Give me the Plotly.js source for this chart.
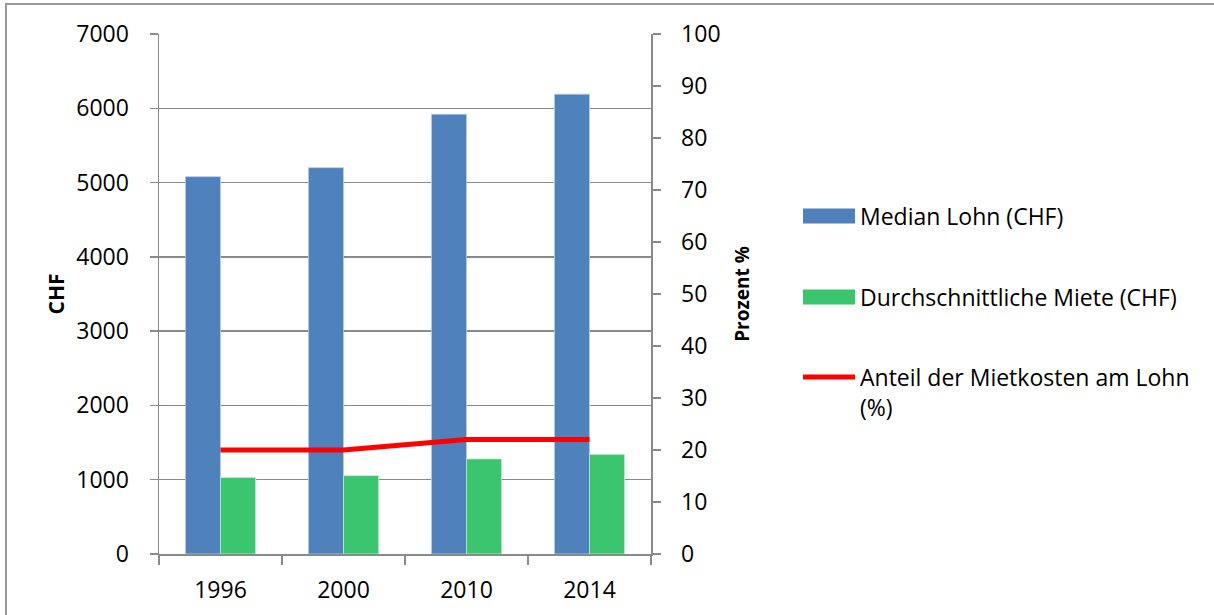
<!DOCTYPE html>
<html>
<head>
<meta charset="utf-8">
<script src="https://cdn.plot.ly/plotly-3.0.1.min.js"></script>
<style>
  html, body { margin: 0; padding: 0; background: #fff; }
  #chart { width: 1214px; height: 615px; }
</style>
</head>
<body>
<div id="chart"></div>
<script>
// ---- Data ----
const years = ['1996', '2000', '2010', '2014'];
const medianLohn = [5080, 5200, 5920, 6190];
const miete = [1030, 1055, 1280, 1340];
const anteil = [20, 20, 22, 22];
const seriesNames = ['Median Lohn (CHF)', 'Durchschnittliche Miete (CHF)', 'Anteil der Mietkosten am Lohn<br>(%)'];
const leftAxisTitle = 'CHF';
const rightAxisTitle = 'Prozent %';

// ---- Styling ----
const W = 1214, H = 615;
const M = { l: 159, r: W - 651, t: 34, b: H - 554 };
const PW = W - M.l - M.r, PH = H - M.t - M.b;
const px2x = p => (p - M.l) / PW;
const px2y = p => (H - M.b - p) / PH;
const FONT = 'Open Sans, sans-serif';
const FS = 23;
const GRID = '#8a8a8a';
const colors = ['#4F81BD', '#3CC56F', '#FF0000'];

const traces = [
  { type: 'bar', x: years, y: medianLohn, name: seriesNames[0],
    marker: { color: colors[0], line: { color: 'rgba(185,205,229,0.8)', width: 1 } }, yaxis: 'y' },
  { type: 'bar', x: years, y: miete, name: seriesNames[1],
    marker: { color: colors[1], line: { color: 'rgba(190,235,205,0.8)', width: 1 } }, yaxis: 'y' },
  { type: 'scatter', mode: 'lines', x: years, y: anteil, name: seriesNames[2],
    line: { color: colors[2], width: 5 }, yaxis: 'y2' }
];

// custom legend
const shapes = [];
const annotations = [];
const rows = [216, 297, 377];
const textY = [216, 297, 392];
for (let i = 0; i < 3; i++) {
  if (i < 2) {
    shapes.push({ type: 'rect', xref: 'paper', yref: 'paper',
      x0: px2x(803), x1: px2x(855), y0: px2y(rows[i] - 7.5), y1: px2y(rows[i] + 7.5),
      fillcolor: colors[i], line: { width: 0 } });
  } else {
    shapes.push({ type: 'line', xref: 'paper', yref: 'paper',
      x0: px2x(803), x1: px2x(855), y0: px2y(rows[i]), y1: px2y(rows[i]),
      line: { color: colors[i], width: 5 } });
  }
  annotations.push({ xref: 'paper', yref: 'paper', x: px2x(858), y: px2y(textY[i]),
    xanchor: 'left', yanchor: 'middle', align: 'left', showarrow: false,
    text: seriesNames[i], font: { family: FONT, size: FS, color: '#000' } });
}
// outer border
shapes.push({ type: 'rect', xref: 'paper', yref: 'paper',
  x0: px2x(6), x1: px2x(W + 20), y0: px2y(4), y1: px2y(H + 20),
  line: { color: '#9a9a9a', width: 2 }, fillcolor: 'rgba(0,0,0,0)', layer: 'below' });

const layout = {
  width: W, height: H,
  margin: M,
  paper_bgcolor: '#fff', plot_bgcolor: '#fff',
  font: { family: FONT, size: FS, color: '#000' },
  showlegend: false,
  barmode: 'group', bargap: 0.43, bargroupgap: 0,
  xaxis: {
    type: 'category', tickson: 'boundaries', ticks: 'outside', ticklen: 9, tickwidth: 1.5,
    tickcolor: GRID, showline: true, linecolor: GRID, linewidth: 1.5, showgrid: false,
    ticklabelstandoff: 15, tickfont: { family: FONT, size: FS, color: '#000' }
  },
  yaxis: {
    range: [0, 7000], dtick: 1000, ticks: 'outside', ticklen: 8, tickwidth: 1.5, tickcolor: GRID,
    showline: true, linecolor: GRID, linewidth: 1.5, showgrid: true, gridcolor: GRID, gridwidth: 1.5,
    zeroline: false, ticklabelstandoff: 16, tickfont: { family: FONT, size: FS, color: '#000' },
    title: { text: leftAxisTitle, standoff: 6, font: { family: FONT, size: 21, color: '#000', weight: 'bold' } }
  },
  yaxis2: {
    range: [0, 100], dtick: 10, overlaying: 'y', side: 'right', ticks: 'outside', ticklen: 8,
    tickwidth: 1.5, tickcolor: GRID, showline: true, linecolor: GRID, linewidth: 1.5, showgrid: false,
    zeroline: false, ticklabelstandoff: 16, tickfont: { family: FONT, size: FS, color: '#000' },
    title: { text: rightAxisTitle, standoff: 16, font: { family: FONT, size: 19, color: '#000', weight: 'bold' } }
  },
  shapes: shapes,
  annotations: annotations
};

Plotly.newPlot('chart', traces, layout, { staticPlot: true, displayModeBar: false });
</script>
</body>
</html>
